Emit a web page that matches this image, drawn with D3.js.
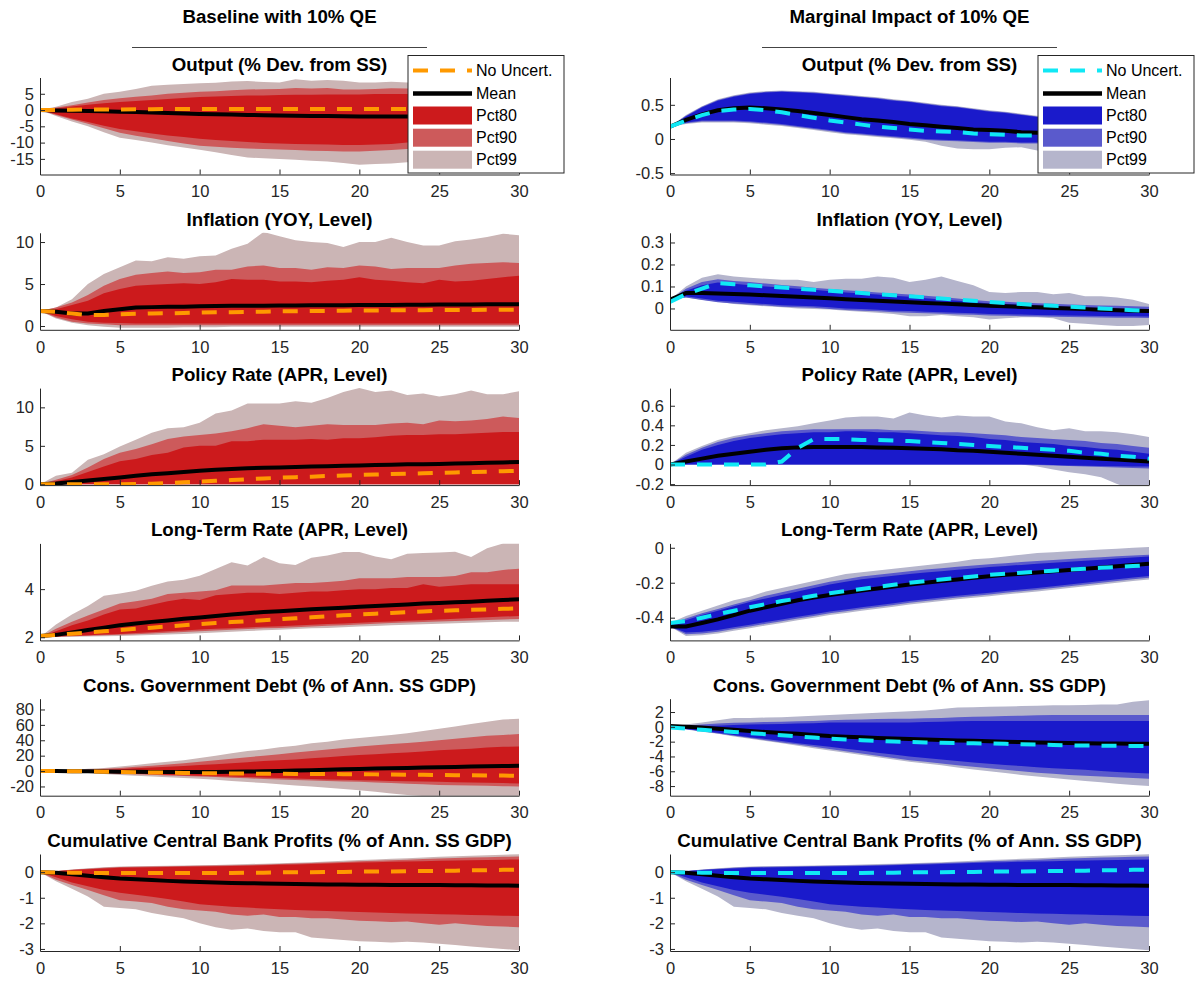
<!DOCTYPE html>
<html>
<head>
<meta charset="utf-8">
<script src="https://cdn.jsdelivr.net/npm/d3@7"></script>
<style>
  html, body { margin: 0; padding: 0; background: #fff; }
  svg { display: block; font-family: "Liberation Sans", Arial, Helvetica, sans-serif; }
</style>
</head>
<body>
<svg id="chart" width="1197" height="981"></svg>
<script>
// Horizon (quarters after the QE shock)
const horizon = d3.range(0, 31);
const xTicks = [0, 5, 10, 15, 20, 25, 30];

// ---------- Baseline with 10% QE ----------
// Output (% Dev. from SS)
const outBaseP99Hi = [0,1,2.5,3.5,5,5.6,6.5,7.5,7.8,8,8.2,8.4,8.8,8.9,8.6,8.5,9.5,9,9.2,9,8.5,8.5,8.7,8.5,8.7,8.8,8.8,8.8,8.8,8.8,8.8];
const outBaseP90Hi = [0,0.8,1.5,2.3,3.1,3.6,4.1,4.5,5,5.3,5.6,5.8,6.1,6.3,6.4,6.5,6.8,6.6,6.8,6.3,6.3,6.5,6.7,6.6,6.5,6.6,6.6,6.6,6.6,6.6,6.6];
const outBaseP80Hi = [0,0.5,1.1,1.6,2.1,2.5,2.8,3.1,3.4,3.7,4,4.2,4.3,4.5,4.5,4.6,4.7,4.7,4.8,4.8,4.8,4.9,4.9,4.9,5,5,5,5,5,5,5];
const outBaseP80Lo = [0,-1.3,-2.6,-3.7,-4.8,-5.8,-6.5,-7.2,-7.8,-8.3,-8.8,-9.2,-9.5,-9.8,-10.1,-10.3,-10.4,-10.5,-10.6,-10.7,-10.7,-10.6,-10.4,-10,-9.8,-9.8,-9.8,-9.8,-9.8,-9.8,-9.8];
const outBaseP90Lo = [0,-1.5,-2.9,-4.2,-5.6,-7,-7.9,-8.7,-9.5,-10.3,-11,-11.3,-11.6,-11.8,-12,-12.1,-12.3,-12.5,-12.6,-12.7,-12.7,-12.5,-12.3,-12,-11.9,-11.9,-11.9,-11.9,-11.9,-11.9,-11.9];
const outBaseP99Lo = [0,-1.8,-3.5,-5,-6.8,-8.5,-9.2,-10,-10.8,-11.5,-12.2,-13,-13.8,-14.6,-14.8,-15,-15.3,-15.6,-15.8,-16.3,-16.8,-16.6,-16.4,-16,-16,-16,-16,-16,-16,-16,-16];
const outBaseMean  = [0,-0.1,-0.2,-0.3,-0.4,-0.5,-0.6,-0.75,-0.9,-1.05,-1.2,-1.3,-1.4,-1.5,-1.6,-1.7,-1.75,-1.8,-1.85,-1.9,-1.95,-2,-2,-2,-2,-2,-1.95,-1.9,-1.9,-1.85,-1.8];
const outBaseNoUnc = [0,0.05,0.1,0.15,0.2,0.2,0.25,0.25,0.3,0.3,0.3,0.3,0.3,0.3,0.3,0.3,0.3,0.3,0.3,0.3,0.3,0.3,0.3,0.3,0.3,0.3,0.3,0.3,0.3,0.3,0.3];
const outBaseTicks = [-15, -10, -5, 0, 5];

// Inflation (YOY, Level)
const infBaseP99Hi = [1.8,2.2,3.2,5,6.2,7,7.8,7.7,8.2,8,8.3,8.4,9.2,9.8,11.2,10.7,10.2,10,9.9,9.4,10,10,10.5,10,9.6,9.6,10.1,10.3,10.6,11,10.8];
const infBaseP90Hi = [1.8,2.2,2.8,3.7,4.8,5.6,6.1,6.3,6.5,6.3,6.4,6.7,6.7,7.1,7.2,6.9,6.9,6.7,7,6.9,7.2,7.1,6.8,6.9,6.9,6.9,7.2,7.4,7.5,7.6,7.5];
const infBaseP80Hi = [1.8,2,2.5,3,3.9,4.4,4.8,4.9,5,5.1,5,5.2,5.6,5.5,5.5,5.3,5.3,5.2,5.4,5.5,5.8,5.5,5.4,5.2,5.1,5.5,5.3,5.4,5.6,5.8,6];
const infBaseP80Lo = [1.8,1.2,0.8,0.5,0.4,0.35,0.3,0.3,0.3,0.3,0.3,0.3,0.3,0.3,0.3,0.3,0.3,0.3,0.3,0.3,0.3,0.3,0.3,0.3,0.3,0.3,0.3,0.3,0.3,0.3,0.3];
const infBaseP90Lo = [1.8,1,0.5,0.3,0.2,0.1,0.1,0.1,0.1,0.1,0.1,0.1,0.1,0.1,0.1,0.1,0.1,0.1,0.1,0.1,0.1,0.1,0.1,0.1,0.1,0.1,0.1,0.1,0.1,0.1,0.1];
const infBaseP99Lo = [1.8,0.9,0.4,0.1,-0.1,-0.2,-0.2,-0.2,-0.2,-0.15,-0.15,-0.15,-0.1,-0.1,-0.1,-0.1,-0.1,-0.1,-0.1,-0.1,-0.1,-0.1,-0.1,-0.1,-0.1,-0.1,-0.1,-0.1,-0.1,-0.1,-0.1];
const infBaseMean  = [1.8,1.7,1.5,1.5,1.8,2,2.2,2.25,2.3,2.3,2.35,2.37,2.4,2.4,2.42,2.45,2.45,2.46,2.47,2.48,2.5,2.5,2.51,2.52,2.53,2.55,2.56,2.57,2.58,2.59,2.6];
const infBaseNoUnc = [1.8,1.7,1.5,1.3,1.3,1.4,1.45,1.5,1.52,1.55,1.6,1.63,1.65,1.68,1.7,1.75,1.77,1.79,1.8,1.82,1.85,1.86,1.87,1.88,1.89,1.9,1.91,1.92,1.93,1.94,1.95];
const infBaseTicks = [0, 5, 10];

// Policy Rate (APR, Level)
const polBaseP99Hi = [0,1.1,1.5,3.2,3.9,4.9,5.8,6.7,7.3,7.4,8,9.2,9.6,10.5,10.5,10.5,10.8,10.6,11.2,12,12.5,12,12.2,11.6,11.8,11.4,11.7,12.2,11.7,11.7,12.1];
const polBaseP90Hi = [0,0.6,1.2,2.2,3.3,4.1,4.6,5.2,5.9,6.2,6.4,6.6,6.9,7.3,7.8,7.6,7.4,7.6,7.8,7.7,7.7,7.7,7.9,8,7.8,8.3,8.2,8.3,8.5,8.8,8.6];
const polBaseP80Hi = [0,0.4,0.9,1.6,2.3,3,3.3,3.8,4.1,4.8,5,5,5.6,5.6,5.8,5.8,5.8,5.9,5.8,6,6,6.1,6.3,6.4,6.4,6.5,6.5,6.6,6.7,6.8,6.8];
const polBaseP80Lo = [0,0,0,0,0,0,0,0,0,0,0,0,0,0,0,0,0,0,0,0,0,0,0,0,0,0,0,0,0,0,0];
const polBaseP90Lo = [0,0,0,0,0,0,0,0,0,0,0,0,0,0,0,0,0,0,0,0,0,0,0,0,0,0,0,0,0,0,0];
const polBaseP99Lo = [0,0,0,0,0,0,0,0,0,0,0,0,0,0,0,0,0,0,0,0,0,0,0,0,0,0,0,0,0,0,0];
const polBaseMean  = [0,0.1,0.3,0.5,0.7,0.9,1.1,1.3,1.45,1.6,1.75,1.9,2,2.1,2.15,2.2,2.25,2.3,2.35,2.4,2.45,2.5,2.55,2.6,2.6,2.65,2.7,2.75,2.8,2.85,2.9];
const polBaseNoUnc = [0,0,0,0,0,0,0.03,0.08,0.16,0.26,0.36,0.46,0.56,0.66,0.76,0.86,0.93,1,1.08,1.15,1.23,1.28,1.33,1.38,1.43,1.5,1.55,1.6,1.65,1.7,1.75];
const polBaseTicks = [0, 5, 10];

// Long-Term Rate (APR, Level)
const ltrBaseP99Hi = [2,2.53,2.95,3.3,3.72,3.82,3.93,4.14,4.32,4.39,4.56,4.84,5.12,4.98,5.33,5.08,5,5.3,5.4,5.54,5.54,5.36,5.24,5.47,5.5,5.52,5.55,5.33,5.7,5.9,5.9];
const ltrBaseP90Hi = [2,2.35,2.65,2.9,3.15,3.4,3.5,3.6,3.8,3.85,3.9,3.95,4.15,4.15,4.15,4.2,4.25,4.25,4.3,4.35,4.45,4.45,4.45,4.5,4.5,4.5,4.55,4.7,4.7,4.8,4.85];
const ltrBaseP80Hi = [2,2.25,2.5,2.7,2.95,3.15,3.2,3.35,3.5,3.6,3.55,3.75,3.8,3.85,3.85,3.8,3.85,3.9,3.9,3.95,4,4,4.05,4.05,4.2,4.1,4.15,4.2,4.2,4.2,4.2];
const ltrBaseP80Lo = [2,2.03,2.06,2.08,2.11,2.14,2.18,2.21,2.25,2.28,2.32,2.35,2.38,2.41,2.44,2.46,2.49,2.52,2.55,2.57,2.6,2.63,2.66,2.69,2.71,2.74,2.77,2.8,2.83,2.86,2.88];
const ltrBaseP90Lo = [2,2.02,2.04,2.06,2.08,2.1,2.13,2.16,2.19,2.22,2.25,2.28,2.31,2.34,2.37,2.39,2.42,2.45,2.48,2.5,2.53,2.56,2.59,2.61,2.63,2.66,2.68,2.7,2.72,2.74,2.76];
const ltrBaseP99Lo = [2,2.01,2.02,2.03,2.04,2.05,2.07,2.09,2.11,2.14,2.17,2.2,2.23,2.26,2.29,2.31,2.34,2.37,2.39,2.42,2.45,2.47,2.5,2.52,2.54,2.56,2.58,2.6,2.62,2.64,2.65];
const ltrBaseMean  = [2.05,2.1,2.2,2.3,2.4,2.5,2.57,2.64,2.7,2.77,2.82,2.88,2.95,3,3.05,3.08,3.12,3.16,3.2,3.23,3.27,3.3,3.33,3.36,3.4,3.42,3.45,3.48,3.52,3.55,3.58];
const ltrBaseNoUnc = [2.05,2.1,2.15,2.2,2.25,2.3,2.35,2.4,2.45,2.5,2.55,2.59,2.63,2.67,2.71,2.75,2.79,2.83,2.87,2.91,2.95,2.98,3.01,3.04,3.07,3.1,3.12,3.14,3.16,3.18,3.2];
const ltrBaseTicks = [2, 4];

// Cons. Government Debt (% of Ann. SS GDP)
const debtBaseP99Hi = [0,0.5,1.5,3,4,6,8,10,12,14,17,20,23,26,28,31,33,36,38,41,43,45,47,49,52,55,58,61,64,67,68];
const debtBaseP90Hi = [0,0.4,1,2,3,4,5.5,7,8.5,10,12,14,16,18,20,22,24,26,28,30,32,33.5,35,36.5,38,40,42,44,46,47,48];
const debtBaseP80Hi = [0,0.2,0.6,1.2,1.8,2.5,3.5,4.5,5.5,6.5,8,9,10,11.5,13,14,15,16.5,18,19.5,21,22,23,24,25.5,27,28,29,30.5,31.5,32];
const debtBaseP80Lo = [0,-0.3,-0.8,-1.5,-2.2,-3,-3.6,-4.2,-4.8,-5.4,-6,-6.6,-7.2,-7.8,-8.4,-9,-9.6,-10.2,-10.8,-11.4,-12,-12.4,-12.8,-13.2,-13.6,-14,-14.4,-14.8,-15.2,-15.6,-16];
const debtBaseP90Lo = [0,-0.4,-1,-1.8,-2.6,-3.5,-4.2,-4.9,-5.6,-6.3,-7,-7.8,-8.6,-9.4,-10.2,-11,-11.6,-12.2,-12.8,-13.4,-14,-14.8,-15.6,-16.4,-17.2,-18,-18.4,-18.8,-19.2,-19.6,-20];
const debtBaseP99Lo = [0,-0.6,-1.5,-2.5,-3.7,-5,-6,-7,-8,-9,-10,-11.4,-12.8,-14.2,-15.6,-17,-18.6,-20.2,-21.8,-23.4,-25,-27,-29,-31,-32.5,-33,-34,-35,-36,-36,-37];
const debtBaseMean  = [0,0,-0.2,-0.4,-0.6,-0.8,-1,-1.1,-1.2,-1.3,-1.3,-1.2,-1,-0.7,-0.3,0.2,0.7,1.2,1.7,2.2,2.7,3.2,3.6,4,4.5,5,5.4,5.8,6.2,6.5,6.8];
const debtBaseNoUnc = [0,0,-0.2,-0.5,-0.8,-1.1,-1.5,-1.8,-2.1,-2.4,-2.7,-2.9,-3.1,-3.3,-3.5,-3.6,-3.7,-3.8,-3.9,-4,-4.1,-4.3,-4.5,-4.7,-4.9,-5.1,-5.3,-5.5,-5.7,-5.9,-6];
const debtBaseTicks = [-20, 0, 20, 40, 60, 80];

// Cumulative Central Bank Profits (% of Ann. SS GDP)
const cbpBaseP99Hi = [0,0.05,0.1,0.15,0.19,0.22,0.23,0.24,0.25,0.26,0.27,0.28,0.3,0.32,0.33,0.35,0.37,0.39,0.42,0.45,0.48,0.5,0.52,0.54,0.57,0.6,0.62,0.64,0.66,0.68,0.7];
const cbpBaseP90Hi = [0,0.045,0.09,0.13,0.17,0.2,0.21,0.22,0.23,0.24,0.25,0.26,0.27,0.28,0.3,0.32,0.34,0.36,0.38,0.4,0.43,0.45,0.47,0.49,0.51,0.53,0.55,0.57,0.58,0.6,0.61];
const cbpBaseP80Hi = [0,0.04,0.08,0.11,0.14,0.17,0.18,0.19,0.2,0.21,0.22,0.23,0.24,0.25,0.27,0.29,0.3,0.32,0.34,0.36,0.38,0.39,0.41,0.42,0.43,0.45,0.46,0.47,0.48,0.49,0.5];
const cbpBaseP80Lo = [0,-0.2,-0.4,-0.55,-0.7,-0.8,-0.88,-0.96,-1.05,-1.15,-1.25,-1.3,-1.35,-1.38,-1.42,-1.45,-1.48,-1.5,-1.52,-1.54,-1.56,-1.58,-1.6,-1.61,-1.62,-1.64,-1.65,-1.67,-1.68,-1.7,-1.71];
const cbpBaseP90Lo = [0,-0.3,-0.5,-0.7,-0.9,-1.1,-1.15,-1.2,-1.35,-1.45,-1.5,-1.55,-1.65,-1.7,-1.65,-1.75,-1.75,-1.8,-1.8,-1.85,-1.9,-1.92,-1.95,-1.93,-2,-2.05,-2,-2.05,-2.1,-2.12,-2.15];
const cbpBaseP99Lo = [0,-0.35,-0.65,-0.95,-1.35,-1.4,-1.45,-1.6,-1.7,-1.8,-2,-2.15,-2.25,-2.2,-2.3,-2.35,-2.35,-2.55,-2.6,-2.65,-2.7,-2.72,-2.75,-2.72,-2.75,-2.8,-2.85,-2.9,-2.95,-3,-3.05];
const cbpBaseMean  = [0,-0.02,-0.08,-0.14,-0.2,-0.25,-0.28,-0.31,-0.34,-0.36,-0.38,-0.4,-0.42,-0.43,-0.44,-0.45,-0.46,-0.47,-0.48,-0.48,-0.49,-0.49,-0.5,-0.5,-0.5,-0.5,-0.51,-0.51,-0.52,-0.52,-0.53];
const cbpBaseNoUnc = [0,-0.01,-0.02,-0.03,-0.03,-0.03,-0.03,-0.03,-0.03,-0.03,-0.03,-0.03,-0.03,-0.02,-0.02,-0.01,0,0,0.01,0.01,0.02,0.03,0.03,0.04,0.05,0.05,0.06,0.07,0.08,0.09,0.1];
const cbpBaseTicks = [-3, -2, -1, 0];

// ---------- Marginal Impact of 10% QE ----------
// Output (% Dev. from SS)
const outMargP99Hi = [0.18,0.35,0.48,0.58,0.64,0.68,0.7,0.71,0.7,0.69,0.67,0.65,0.63,0.61,0.58,0.56,0.53,0.5,0.48,0.45,0.42,0.4,0.37,0.34,0.31,0.29,0.27,0.25,0.23,0.21,0.2];
const outMargP90Hi = [0.18,0.34,0.47,0.57,0.63,0.67,0.69,0.7,0.69,0.68,0.66,0.64,0.62,0.6,0.57,0.55,0.52,0.49,0.47,0.44,0.41,0.39,0.36,0.33,0.3,0.28,0.26,0.24,0.22,0.2,0.19];
const outMargP80Hi = [0.18,0.33,0.46,0.56,0.62,0.66,0.68,0.69,0.68,0.67,0.65,0.63,0.61,0.59,0.56,0.54,0.51,0.48,0.46,0.43,0.4,0.38,0.35,0.32,0.29,0.27,0.25,0.23,0.21,0.19,0.18];
const outMargP80Lo = [0.18,0.24,0.27,0.27,0.27,0.26,0.24,0.22,0.19,0.16,0.13,0.1,0.08,0.06,0.04,0.02,0,-0.01,-0.02,-0.03,-0.04,-0.04,-0.05,-0.05,-0.05,-0.05,-0.05,-0.05,-0.05,-0.05,-0.05];
const outMargP90Lo = [0.18,0.23,0.255,0.255,0.255,0.245,0.225,0.205,0.175,0.145,0.115,0.085,0.065,0.045,0.025,0.005,-0.015,-0.025,-0.035,-0.045,-0.055,-0.055,-0.065,-0.065,-0.065,-0.065,-0.065,-0.065,-0.065,-0.065,-0.065];
const outMargP99Lo = [0.18,0.22,0.24,0.24,0.24,0.23,0.21,0.19,0.16,0.13,0.1,0.07,0.05,0.03,0.01,-0.01,-0.04,-0.1,-0.14,-0.15,-0.15,-0.13,-0.12,-0.17,-0.2,-0.2,-0.2,-0.2,-0.2,-0.2,-0.2];
const outMargMean  = [0.18,0.28,0.36,0.42,0.45,0.46,0.45,0.43,0.41,0.38,0.35,0.32,0.29,0.27,0.25,0.22,0.2,0.18,0.16,0.14,0.13,0.12,0.1,0.09,0.08,0.07,0.06,0.05,0.05,0.04,0.04];
const outMargNoUnc = [0.18,0.27,0.35,0.41,0.43,0.44,0.42,0.39,0.35,0.31,0.27,0.24,0.21,0.18,0.16,0.14,0.12,0.11,0.1,0.08,0.07,0.06,0.05,0.05,0.04,0.04,0.03,0.03,0.03,0.03,0.03];
const outMargTicks = [-0.5, 0, 0.5];

// Inflation (YOY, Level)
const infMargP99Hi = [0.04,0.1,0.14,0.155,0.145,0.14,0.135,0.13,0.13,0.12,0.13,0.135,0.135,0.145,0.14,0.12,0.13,0.145,0.125,0.105,0.075,0.07,0.075,0.075,0.065,0.07,0.055,0.055,0.05,0.04,0.02];
const infMargP90Hi = [0.04,0.09,0.12,0.133,0.125,0.12,0.113,0.107,0.101,0.094,0.088,0.083,0.078,0.073,0.068,0.064,0.058,0.052,0.045,0.039,0.033,0.03,0.027,0.024,0.021,0.018,0.016,0.014,0.012,0.01,0.008];
const infMargP80Hi = [0.04,0.08,0.105,0.118,0.112,0.105,0.1,0.095,0.09,0.085,0.078,0.073,0.068,0.063,0.058,0.053,0.047,0.041,0.035,0.029,0.023,0.02,0.017,0.014,0.011,0.008,0.005,0.002,0,-0.003,-0.005];
const infMargP80Lo = [0.04,0.055,0.045,0.035,0.03,0.025,0.02,0.015,0.012,0.01,0.005,0,-0.003,-0.006,-0.01,-0.012,-0.015,-0.017,-0.02,-0.022,-0.025,-0.026,-0.028,-0.03,-0.031,-0.032,-0.033,-0.034,-0.035,-0.035,-0.036];
const infMargP90Lo = [0.04,0.05,0.038,0.028,0.023,0.018,0.013,0.008,0.005,0.003,-0.002,-0.007,-0.01,-0.013,-0.017,-0.019,-0.022,-0.024,-0.027,-0.029,-0.032,-0.033,-0.035,-0.037,-0.038,-0.039,-0.04,-0.041,-0.042,-0.042,-0.043];
const infMargP99Lo = [0.04,0.05,0.04,0.03,0.02,0.015,0.01,0.005,0,-0.003,-0.005,-0.01,-0.015,-0.02,-0.025,-0.035,-0.035,-0.03,-0.035,-0.04,-0.05,-0.045,-0.04,-0.04,-0.045,-0.065,-0.07,-0.075,-0.08,-0.08,-0.075];
const infMargMean  = [0.04,0.07,0.07,0.068,0.066,0.063,0.06,0.057,0.053,0.05,0.046,0.042,0.038,0.035,0.032,0.028,0.025,0.022,0.019,0.016,0.012,0.01,0.007,0.005,0.002,0,-0.003,-0.006,-0.008,-0.01,-0.012];
const infMargNoUnc = [0.03,0.065,0.09,0.115,0.11,0.105,0.1,0.095,0.09,0.085,0.08,0.075,0.07,0.065,0.06,0.055,0.05,0.045,0.04,0.035,0.03,0.025,0.02,0.016,0.012,0.008,0.004,0,-0.004,-0.008,-0.012];
const infMargTicks = [0, 0.1, 0.2, 0.3];

// Policy Rate (APR, Level)
const polMargP99Hi = [0,0.12,0.19,0.25,0.29,0.32,0.35,0.37,0.39,0.42,0.45,0.48,0.49,0.49,0.47,0.53,0.5,0.48,0.5,0.49,0.49,0.44,0.42,0.38,0.35,0.37,0.34,0.34,0.33,0.31,0.28];
const polMargP90Hi = [0,0.1,0.17,0.23,0.27,0.3,0.32,0.34,0.35,0.36,0.36,0.36,0.36,0.36,0.35,0.35,0.34,0.33,0.33,0.32,0.31,0.3,0.28,0.27,0.26,0.25,0.24,0.22,0.21,0.19,0.17];
const polMargP80Hi = [0,0.08,0.15,0.2,0.24,0.27,0.29,0.31,0.32,0.33,0.33,0.34,0.34,0.33,0.33,0.32,0.31,0.3,0.29,0.28,0.26,0.25,0.23,0.22,0.21,0.19,0.18,0.16,0.15,0.13,0.11];
const polMargP80Lo = [0,0,0,0,0,0,0,0,0,0,0,0,0,0,0,0,0,0,0,0,0,0,0,0,-0.005,-0.01,-0.012,-0.015,-0.018,-0.02,-0.02];
const polMargP90Lo = [0,0,0,0,0,0,0,0,0,0,0,0,0,0,0,0,0,0,0,0,0,0,0,-0.005,-0.01,-0.015,-0.02,-0.025,-0.03,-0.035,-0.04];
const polMargP99Lo = [0,0,0,0,0,0,0,0,0,0,0,0,0,0,0,0,0,0,0,0,0,0,0,-0.02,-0.05,-0.08,-0.1,-0.13,-0.2,-0.25,-0.3];
const polMargMean  = [0,0.03,0.06,0.09,0.11,0.13,0.15,0.165,0.175,0.18,0.18,0.18,0.18,0.175,0.17,0.165,0.16,0.155,0.145,0.14,0.13,0.12,0.11,0.1,0.09,0.08,0.07,0.06,0.05,0.04,0.03];
const polMargNoUnc = [0,0,0,0,0,0,0,0.03,0.17,0.26,0.26,0.26,0.25,0.25,0.245,0.24,0.23,0.22,0.21,0.2,0.19,0.18,0.17,0.16,0.15,0.14,0.12,0.11,0.09,0.08,0.06];
const polMargTicks = [-0.2, 0, 0.2, 0.4, 0.6];

// Long-Term Rate (APR, Level)
const ltrMargP99Hi = [-0.43,-0.39,-0.36,-0.33,-0.3,-0.28,-0.25,-0.23,-0.21,-0.19,-0.17,-0.15,-0.14,-0.13,-0.12,-0.11,-0.1,-0.09,-0.08,-0.065,-0.06,-0.05,-0.04,-0.03,-0.025,-0.02,-0.015,-0.01,-0.005,0,0.005];
const ltrMargP90Hi = [-0.435,-0.405,-0.375,-0.35,-0.325,-0.3,-0.275,-0.255,-0.235,-0.215,-0.195,-0.18,-0.165,-0.155,-0.145,-0.135,-0.125,-0.117,-0.109,-0.101,-0.094,-0.088,-0.082,-0.076,-0.07,-0.064,-0.059,-0.054,-0.049,-0.044,-0.04];
const ltrMargP80Hi = [-0.44,-0.415,-0.385,-0.36,-0.335,-0.31,-0.29,-0.27,-0.25,-0.23,-0.21,-0.195,-0.18,-0.17,-0.16,-0.15,-0.142,-0.134,-0.126,-0.118,-0.11,-0.104,-0.098,-0.092,-0.086,-0.08,-0.074,-0.068,-0.062,-0.056,-0.05];
const ltrMargP80Lo = [-0.45,-0.485,-0.48,-0.47,-0.455,-0.44,-0.425,-0.41,-0.395,-0.38,-0.365,-0.353,-0.341,-0.329,-0.317,-0.305,-0.295,-0.285,-0.275,-0.266,-0.257,-0.248,-0.239,-0.23,-0.22,-0.21,-0.2,-0.19,-0.18,-0.17,-0.162];
const ltrMargP90Lo = [-0.45,-0.495,-0.49,-0.48,-0.465,-0.45,-0.435,-0.42,-0.405,-0.39,-0.375,-0.363,-0.351,-0.339,-0.327,-0.315,-0.305,-0.295,-0.285,-0.276,-0.267,-0.258,-0.249,-0.24,-0.23,-0.22,-0.21,-0.2,-0.19,-0.18,-0.172];
const ltrMargP99Lo = [-0.45,-0.505,-0.5,-0.49,-0.475,-0.46,-0.445,-0.43,-0.415,-0.4,-0.385,-0.373,-0.361,-0.349,-0.337,-0.325,-0.315,-0.305,-0.295,-0.286,-0.277,-0.268,-0.259,-0.25,-0.24,-0.23,-0.22,-0.21,-0.2,-0.19,-0.182];
const ltrMargMean  = [-0.45,-0.45,-0.43,-0.41,-0.385,-0.36,-0.34,-0.32,-0.3,-0.285,-0.27,-0.257,-0.245,-0.233,-0.221,-0.21,-0.2,-0.19,-0.181,-0.172,-0.163,-0.155,-0.148,-0.141,-0.134,-0.127,-0.12,-0.113,-0.106,-0.099,-0.092];
const ltrMargNoUnc = [-0.43,-0.42,-0.4,-0.38,-0.36,-0.34,-0.322,-0.305,-0.29,-0.275,-0.26,-0.248,-0.236,-0.224,-0.212,-0.2,-0.191,-0.182,-0.173,-0.164,-0.155,-0.149,-0.143,-0.137,-0.131,-0.125,-0.12,-0.115,-0.11,-0.105,-0.1];
const ltrMargTicks = [-0.4, -0.2, 0];

// Cons. Government Debt (% of Ann. SS GDP)
const debtMargP99Hi = [0,0.3,0.6,0.9,1.2,1.2,1.25,1.3,1.4,1.5,1.6,1.7,1.8,1.9,2,2.1,2.2,2.4,2.6,2.65,2.7,2.75,2.8,2.85,2.9,2.9,2.95,3,3,3.4,3.6];
const debtMargP90Hi = [0,0.15,0.3,0.45,0.55,0.6,0.65,0.7,0.75,0.8,0.9,0.95,1,1.05,1.1,1.1,1.15,1.2,1.3,1.35,1.4,1.45,1.5,1.55,1.6,1.6,1.6,1.6,1.6,1.6,1.6];
const debtMargP80Hi = [0,0.05,0.1,0.15,0.25,0.3,0.35,0.4,0.45,0.5,0.6,0.6,0.6,0.6,0.6,0.6,0.65,0.7,0.75,0.8,0.8,0.8,0.8,0.8,0.8,0.8,0.8,0.8,0.8,0.8,0.8];
const debtMargP80Lo = [0,-0.3,-0.55,-0.8,-1.1,-1.4,-1.65,-1.9,-2.2,-2.45,-2.7,-2.95,-3.2,-3.5,-3.75,-4,-4.2,-4.4,-4.6,-4.8,-5,-5.15,-5.3,-5.45,-5.6,-5.7,-5.8,-5.95,-6.1,-6.2,-6.3];
const debtMargP90Lo = [0,-0.32,-0.6,-0.9,-1.2,-1.5,-1.8,-2.1,-2.4,-2.7,-3,-3.3,-3.6,-3.9,-4.2,-4.5,-4.7,-4.95,-5.2,-5.4,-5.6,-5.8,-6,-6.2,-6.35,-6.5,-6.6,-6.7,-6.8,-6.9,-7];
const debtMargP99Lo = [0,-0.35,-0.65,-0.95,-1.3,-1.6,-1.9,-2.2,-2.55,-2.9,-3.2,-3.5,-3.8,-4.1,-4.4,-4.7,-4.95,-5.2,-5.5,-5.75,-6,-6.25,-6.5,-6.7,-6.9,-7.1,-7.3,-7.5,-7.7,-7.85,-8];
const debtMargMean  = [0.1,0,-0.1,-0.25,-0.4,-0.55,-0.7,-0.82,-0.94,-1.1,-1.25,-1.33,-1.42,-1.5,-1.58,-1.65,-1.71,-1.77,-1.83,-1.89,-1.95,-2,-2.05,-2.1,-2.14,-2.18,-2.21,-2.24,-2.26,-2.28,-2.3];
const debtMargNoUnc = [-0.1,-0.25,-0.4,-0.55,-0.7,-0.85,-1,-1.15,-1.3,-1.45,-1.6,-1.7,-1.8,-1.9,-1.98,-2.05,-2.1,-2.15,-2.18,-2.22,-2.25,-2.3,-2.35,-2.4,-2.45,-2.5,-2.52,-2.54,-2.56,-2.58,-2.6];
const debtMargTicks = [-8, -6, -4, -2, 0, 2];

// Cumulative Central Bank Profits (% of Ann. SS GDP)
const cbpMargP99Hi = [0,0.05,0.1,0.15,0.19,0.22,0.23,0.24,0.25,0.26,0.27,0.28,0.3,0.32,0.33,0.35,0.37,0.39,0.42,0.45,0.48,0.5,0.52,0.54,0.57,0.6,0.62,0.64,0.66,0.68,0.7];
const cbpMargP90Hi = [0,0.045,0.09,0.13,0.17,0.2,0.21,0.22,0.23,0.24,0.25,0.26,0.27,0.28,0.3,0.32,0.34,0.36,0.38,0.4,0.43,0.45,0.47,0.49,0.51,0.53,0.55,0.57,0.58,0.6,0.61];
const cbpMargP80Hi = [0,0.04,0.08,0.11,0.14,0.17,0.18,0.19,0.2,0.21,0.22,0.23,0.24,0.25,0.27,0.29,0.3,0.32,0.34,0.36,0.38,0.39,0.41,0.42,0.43,0.45,0.46,0.47,0.48,0.49,0.5];
const cbpMargP80Lo = [0,-0.2,-0.4,-0.55,-0.7,-0.8,-0.88,-0.96,-1.05,-1.15,-1.25,-1.3,-1.35,-1.38,-1.42,-1.45,-1.48,-1.5,-1.52,-1.54,-1.56,-1.58,-1.6,-1.61,-1.62,-1.64,-1.65,-1.67,-1.68,-1.7,-1.71];
const cbpMargP90Lo = [0,-0.3,-0.5,-0.7,-0.9,-1.1,-1.15,-1.2,-1.35,-1.45,-1.5,-1.55,-1.65,-1.7,-1.65,-1.75,-1.75,-1.8,-1.8,-1.85,-1.9,-1.92,-1.95,-1.93,-2,-2.05,-2,-2.05,-2.1,-2.12,-2.15];
const cbpMargP99Lo = [0,-0.35,-0.65,-0.95,-1.35,-1.4,-1.45,-1.6,-1.7,-1.8,-2,-2.15,-2.25,-2.2,-2.3,-2.35,-2.35,-2.55,-2.6,-2.65,-2.7,-2.72,-2.75,-2.72,-2.75,-2.8,-2.85,-2.9,-2.95,-3,-3.05];
const cbpMargMean  = [0,-0.02,-0.08,-0.14,-0.2,-0.25,-0.28,-0.31,-0.34,-0.36,-0.38,-0.4,-0.42,-0.43,-0.44,-0.45,-0.46,-0.47,-0.48,-0.48,-0.49,-0.49,-0.5,-0.5,-0.5,-0.5,-0.51,-0.51,-0.52,-0.52,-0.53];
const cbpMargNoUnc = [0,-0.01,-0.02,-0.03,-0.03,-0.03,-0.03,-0.03,-0.03,-0.03,-0.03,-0.03,-0.03,-0.02,-0.02,-0.01,0,0,0.01,0.01,0.02,0.03,0.03,0.04,0.05,0.05,0.06,0.07,0.08,0.09,0.1];
const cbpMargTicks = [-3, -2, -1, 0];

const legendLabels = ["No Uncert.", "Mean", "Pct80", "Pct90", "Pct99"];

// ---------- Layout & styling ----------
const W = 1197, H = 981;
const colLeft = [40, 670];
const axW = 479, axH = 97;
const rowTop0 = 77.5, rowPitch = 155.3;
const palettes = [
  { p80: "#CC1A1C", p90: "#CD5A5B", p99: "#CBB5B5", noUnc: "#FF9900" },
  { p80: "#1A1ACB", p90: "#5A5ACC", p99: "#B5B5CC", noUnc: "#10E8F5" }
];
const columnTitles = ["Baseline with 10% QE", "Marginal Impact of 10% QE"];
const axisColor = "#262626";
const titleSize = "18.7px";

function band(lo, hi) { return { lo, hi }; }

const panels = [
  { col: 0, row: 0, title: "Output (% Dev. from SS)", ylim: [-19.8, 10], ticks: outBaseTicks,
    p99: band(outBaseP99Lo, outBaseP99Hi), p90: band(outBaseP90Lo, outBaseP90Hi), p80: band(outBaseP80Lo, outBaseP80Hi), mean: outBaseMean, noUnc: outBaseNoUnc },
  { col: 0, row: 1, title: "Inflation (YOY, Level)", ylim: [-0.45, 11.1], ticks: infBaseTicks,
    p99: band(infBaseP99Lo, infBaseP99Hi), p90: band(infBaseP90Lo, infBaseP90Hi), p80: band(infBaseP80Lo, infBaseP80Hi), mean: infBaseMean, noUnc: infBaseNoUnc },
  { col: 0, row: 2, title: "Policy Rate (APR, Level)", ylim: [-0.1, 12.5], ticks: polBaseTicks,
    p99: band(polBaseP99Lo, polBaseP99Hi), p90: band(polBaseP90Lo, polBaseP90Hi), p80: band(polBaseP80Lo, polBaseP80Hi), mean: polBaseMean, noUnc: polBaseNoUnc },
  { col: 0, row: 3, title: "Long-Term Rate (APR, Level)", ylim: [1.87, 5.9], ticks: ltrBaseTicks,
    p99: band(ltrBaseP99Lo, ltrBaseP99Hi), p90: band(ltrBaseP90Lo, ltrBaseP90Hi), p80: band(ltrBaseP80Lo, ltrBaseP80Hi), mean: ltrBaseMean, noUnc: ltrBaseNoUnc },
  { col: 0, row: 4, title: "Cons. Government Debt (% of Ann. SS GDP)", ylim: [-32, 94], ticks: debtBaseTicks,
    p99: band(debtBaseP99Lo, debtBaseP99Hi), p90: band(debtBaseP90Lo, debtBaseP90Hi), p80: band(debtBaseP80Lo, debtBaseP80Hi), mean: debtBaseMean, noUnc: debtBaseNoUnc },
  { col: 0, row: 5, title: "Cumulative Central Bank Profits (% of Ann. SS GDP)", ylim: [-3.08, 0.71], ticks: cbpBaseTicks,
    p99: band(cbpBaseP99Lo, cbpBaseP99Hi), p90: band(cbpBaseP90Lo, cbpBaseP90Hi), p80: band(cbpBaseP80Lo, cbpBaseP80Hi), mean: cbpBaseMean, noUnc: cbpBaseNoUnc },
  { col: 1, row: 0, title: "Output (% Dev. from SS)", ylim: [-0.52, 0.9], ticks: outMargTicks,
    p99: band(outMargP99Lo, outMargP99Hi), p90: band(outMargP90Lo, outMargP90Hi), p80: band(outMargP80Lo, outMargP80Hi), mean: outMargMean, noUnc: outMargNoUnc },
  { col: 1, row: 1, title: "Inflation (YOY, Level)", ylim: [-0.097, 0.344], ticks: infMargTicks,
    p99: band(infMargP99Lo, infMargP99Hi), p90: band(infMargP90Lo, infMargP90Hi), p80: band(infMargP80Lo, infMargP80Hi), mean: infMargMean, noUnc: infMargNoUnc },
  { col: 1, row: 2, title: "Policy Rate (APR, Level)", ylim: [-0.21, 0.78], ticks: polMargTicks,
    p99: band(polMargP99Lo, polMargP99Hi), p90: band(polMargP90Lo, polMargP90Hi), p80: band(polMargP80Lo, polMargP80Hi), mean: polMargMean, noUnc: polMargNoUnc },
  { col: 1, row: 3, title: "Long-Term Rate (APR, Level)", ylim: [-0.53, 0.025], ticks: ltrMargTicks,
    p99: band(ltrMargP99Lo, ltrMargP99Hi), p90: band(ltrMargP90Lo, ltrMargP90Hi), p80: band(ltrMargP80Lo, ltrMargP80Hi), mean: ltrMargMean, noUnc: ltrMargNoUnc },
  { col: 1, row: 4, title: "Cons. Government Debt (% of Ann. SS GDP)", ylim: [-9.3, 3.8], ticks: debtMargTicks,
    p99: band(debtMargP99Lo, debtMargP99Hi), p90: band(debtMargP90Lo, debtMargP90Hi), p80: band(debtMargP80Lo, debtMargP80Hi), mean: debtMargMean, noUnc: debtMargNoUnc },
  { col: 1, row: 5, title: "Cumulative Central Bank Profits (% of Ann. SS GDP)", ylim: [-3.08, 0.71], ticks: cbpMargTicks,
    p99: band(cbpMargP99Lo, cbpMargP99Hi), p90: band(cbpMargP90Lo, cbpMargP90Hi), p80: band(cbpMargP80Lo, cbpMargP80Hi), mean: cbpMargMean, noUnc: cbpMargNoUnc }
];

const svg = d3.select("#chart");
svg.append("rect").attr("width", W).attr("height", H).attr("fill", "#fff");
const defs = svg.append("defs");

panels.forEach((p, k) => {
  const left = colLeft[p.col];
  const top = rowTop0 + rowPitch * p.row;
  const pal = palettes[p.col];
  const x = d3.scaleLinear().domain([0, 30]).range([left, left + axW]);
  const y = d3.scaleLinear().domain(p.ylim).range([top + axH, top]);

  const clipId = "clip" + k;
  defs.append("clipPath").attr("id", clipId)
    .append("rect").attr("x", left).attr("y", top).attr("width", axW).attr("height", axH);

  const g = svg.append("g");
  const plot = g.append("g").attr("clip-path", `url(#${clipId})`);

  const area = b => d3.area()
    .x((d, i) => x(horizon[i]))
    .y0((d, i) => y(b.lo[i]))
    .y1((d, i) => y(b.hi[i]))(horizon);
  const line = vals => d3.line()
    .x((d, i) => x(horizon[i]))
    .y((d, i) => y(vals[i]))(horizon);

  plot.append("path").attr("d", area(p.p99)).attr("fill", pal.p99);
  plot.append("path").attr("d", area(p.p90)).attr("fill", pal.p90);
  plot.append("path").attr("d", area(p.p80)).attr("fill", pal.p80);
  plot.append("path").attr("d", line(p.mean)).attr("fill", "none")
    .attr("stroke", "#000").attr("stroke-width", 4);
  plot.append("path").attr("d", line(p.noUnc)).attr("fill", "none")
    .attr("stroke", pal.noUnc).attr("stroke-width", 4).attr("stroke-dasharray", "15,12");

  // axes with inward ticks (left and bottom only)
  const yAxis = d3.axisLeft(y).tickValues(p.ticks).tickSizeInner(-5).tickSizeOuter(0)
    .tickPadding(6).tickFormat(v => String(v));
  const xAxis = d3.axisBottom(x).tickValues(xTicks).tickSizeInner(-5).tickSizeOuter(0)
    .tickPadding(11).tickFormat(v => String(v));

  const ya = g.append("g").attr("transform", `translate(${left},0)`).call(yAxis);
  const xa = g.append("g").attr("transform", `translate(0,${top + axH})`).call(xAxis);
  [ya, xa].forEach(a => {
    a.attr("font-family", null).attr("font-size", null);
    a.select(".domain").attr("stroke", axisColor).attr("stroke-width", 1);
    a.selectAll(".tick line").attr("stroke", axisColor);
    a.selectAll(".tick text").attr("fill", axisColor).style("font-size", "16.5px");
  });

  g.append("text")
    .attr("x", left + axW / 2).attr("y", top - 7)
    .attr("text-anchor", "middle")
    .style("font-size", titleSize).style("font-weight", "bold").attr("fill", "#000")
    .text(p.title);

  if (p.row === 0) {
    // column heading with its rule
    svg.append("text")
      .attr("x", left + axW / 2).attr("y", 23)
      .attr("text-anchor", "middle")
      .style("font-size", titleSize).style("font-weight", "bold").attr("fill", "#000")
      .text(columnTitles[p.col]);
    svg.append("line")
      .attr("x1", left + axW / 2 - 147.5).attr("x2", left + axW / 2 + 147.5)
      .attr("y1", 47.5).attr("y2", 47.5)
      .attr("stroke", "#444").attr("stroke-width", 1);

    // legend box
    const lx = left + 368, ly = 55.5, lw = 156, lh = 117.5;
    const lg = svg.append("g");
    lg.append("rect").attr("x", lx).attr("y", ly).attr("width", lw).attr("height", lh)
      .attr("fill", "#fff").attr("stroke", axisColor).attr("stroke-width", 1);
    const rowsY = [70.5, 93.5, 115.5, 137.7, 159.7];
    const sx0 = lx + 5, sx1 = lx + 64;
    lg.append("line").attr("x1", sx0).attr("x2", sx1).attr("y1", rowsY[0]).attr("y2", rowsY[0])
      .attr("stroke", pal.noUnc).attr("stroke-width", 4).attr("stroke-dasharray", "15,12");
    lg.append("line").attr("x1", sx0).attr("x2", sx1).attr("y1", rowsY[1]).attr("y2", rowsY[1])
      .attr("stroke", "#000").attr("stroke-width", 4.5);
    [pal.p80, pal.p90, pal.p99].forEach((c, j) => {
      lg.append("rect").attr("x", sx0).attr("y", rowsY[j + 2] - 9)
        .attr("width", sx1 - sx0).attr("height", 18).attr("fill", c);
    });
    legendLabels.forEach((t, j) => {
      lg.append("text").attr("x", lx + 68).attr("y", rowsY[j])
        .attr("dy", "0.35em").style("font-size", "16px").attr("fill", "#000").text(t);
    });
  }
});
</script>
</body>
</html>
